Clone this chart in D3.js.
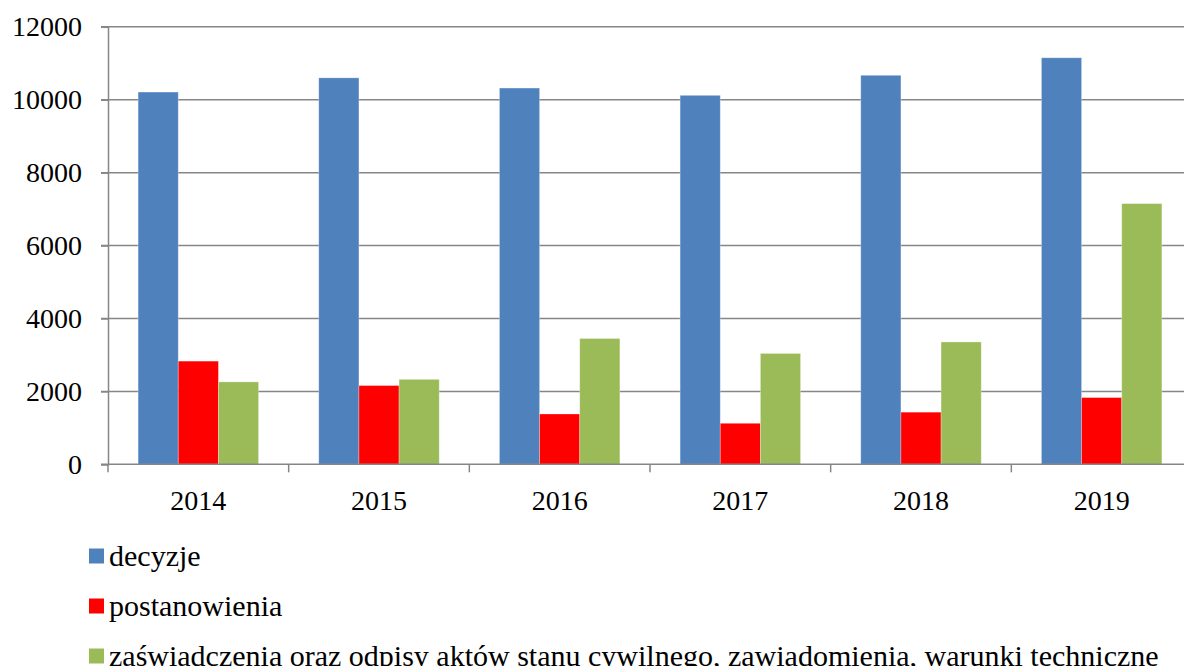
<!DOCTYPE html>
<html>
<head>
<meta charset="utf-8">
<script src="https://cdn.jsdelivr.net/npm/d3@7"></script>
<style>
  body { margin: 0; background: #fff; }
  svg text { font-family: "Liberation Serif" !important; }
</style>
</head>
<body>
<div id="chart"></div>
<script>
// Data
const years = ["2014", "2015", "2016", "2017", "2018", "2019"];
const seriesNames = [
  "decyzje",
  "postanowienia",
  "zaświadczenia oraz odpisy aktów stanu cywilnego, zawiadomienia, warunki techniczne"
];
const decyzje = [10210, 10600, 10320, 10120, 10670, 11150];
const postanowienia = [2830, 2160, 1380, 1125, 1430, 1830];
const zaswiadczenia = [2260, 2330, 3450, 3040, 3355, 7150];
const yTicks = [0, 2000, 4000, 6000, 8000, 10000, 12000];
const colors = ["#4f81bd", "#ff0000", "#9bbb59"];

const width = 1184, height = 666;
const plot = { left: 108, right: 1192, top: 26.8, bottom: 464.3 };

const svg = d3.select("#chart").append("svg")
  .attr("width", width)
  .attr("height", height)
  .attr("font-family", "Liberation Serif");

const x = d3.scaleBand().domain(years).range([plot.left, plot.right]).padding(0);
const x1 = d3.scaleBand().domain(seriesNames).range([0, x.bandwidth()])
  .paddingInner(0).paddingOuter(0.75);
const y = d3.scaleLinear().domain([0, 12000]).range([plot.bottom, plot.top]);

const series = [decyzje, postanowienia, zaswiadczenia];
const rows = years.map((yr, i) => ({
  year: yr,
  vals: seriesNames.map((s, j) => ({ key: s, value: series[j][i], color: colors[j] }))
}));

// Gridlines
svg.append("g")
  .selectAll("line")
  .data(yTicks.filter(d => d > 0))
  .join("line")
  .attr("x1", plot.left - 7)
  .attr("x2", width)
  .attr("y1", d => y(d))
  .attr("y2", d => y(d))
  .attr("stroke", "#868686")
  .attr("stroke-width", 1.5);

// Bars
svg.append("g")
  .selectAll("g")
  .data(rows)
  .join("g")
  .attr("transform", d => `translate(${x(d.year)},0)`)
  .selectAll("rect")
  .data(d => d.vals)
  .join("rect")
  .attr("x", d => x1(d.key))
  .attr("width", x1.bandwidth())
  .attr("y", d => y(d.value))
  .attr("height", d => y(0) - y(d.value))
  .attr("fill", d => d.color)
  .attr("stroke", "rgba(255,255,255,0.35)")
  .attr("stroke-width", 0.8);

// Y axis
const yAxis = svg.append("g")
  .attr("transform", `translate(${plot.left},0)`)
  .call(d3.axisLeft(y).tickValues(yTicks).tickFormat(d3.format("d")).tickSize(7).tickPadding(19));
yAxis.attr("font-family", null);
yAxis.select(".domain").attr("stroke", "#868686").attr("stroke-width", 1.5);
yAxis.selectAll(".tick line").attr("stroke", "#868686").attr("stroke-width", 1.5);
yAxis.selectAll("text").attr("font-size", 28).attr("fill", "#000")
  .style("font-family", '"Liberation Serif"');

// X axis
const xAxis = svg.append("g")
  .attr("transform", `translate(0,${plot.bottom})`)
  .call(d3.axisBottom(x).tickSize(0).tickPadding(26));
xAxis.attr("font-family", null);
xAxis.select(".domain").remove();
xAxis.append("line")
  .attr("x1", plot.left - 7).attr("x2", width)
  .attr("stroke", "#868686").attr("stroke-width", 1.5);
xAxis.selectAll(".tick text").attr("font-size", 28).attr("fill", "#000")
  .style("font-family", '"Liberation Serif"');
xAxis.selectAll(".sep")
  .data(years)
  .join("line")
  .attr("class", "sep")
  .attr("x1", d => x(d)).attr("x2", d => x(d))
  .attr("y1", 0).attr("y2", 8)
  .attr("stroke", "#868686").attr("stroke-width", 1.5);

// Legend
const legend = svg.append("g")
  .selectAll("g")
  .data(seriesNames)
  .join("g")
  .attr("transform", (d, i) => `translate(89,${556 + i * 50})`);
legend.append("rect")
  .attr("x", 0).attr("y", -7.5)
  .attr("width", 15).attr("height", 15)
  .attr("fill", (d, i) => colors[i]);
legend.append("text")
  .attr("x", 20).attr("y", 0)
  .attr("dy", "0.33em")
  .attr("font-size", 30)
  .attr("fill", "#000")
  .style("font-family", '"Liberation Serif"')
  .text(d => d);
</script>
</body>
</html>
